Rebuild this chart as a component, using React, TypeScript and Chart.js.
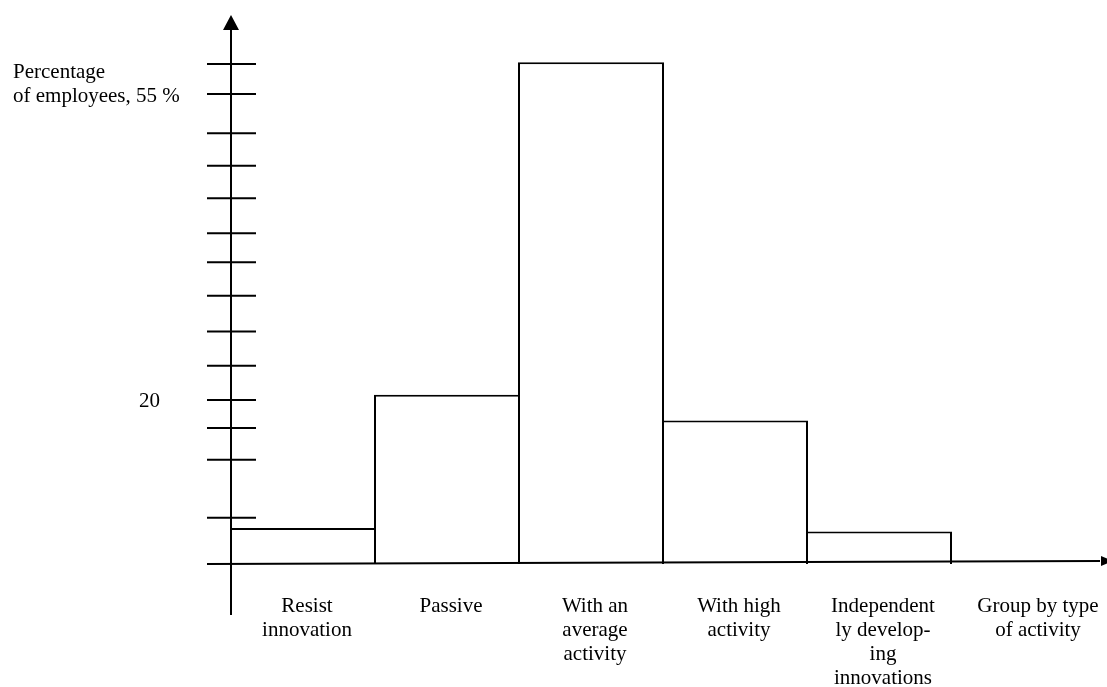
import { useEffect, useRef } from "react";
import { Chart, registerables } from "chart.js";

Chart.register(...registerables);

// ---- data ----
const categories: string[][] = [
  ["Resist", "innovation"],
  ["Passive"],
  ["With an", "average", "activity"],
  ["With high", "activity"],
  ["Independent", "ly develop-", "ing", "innovations"],
  ["Group by type", "of activity"],
];
const employeeShare: (number | null)[] = [4.2, 19.8, 58.7, 16.8, 3.8, null];
const yTickValues: number[] = [58.5, 55, 50.4, 46.6, 42.8, 38.7, 35.3, 31.4, 27.2, 23.2, 19.2, 15.9, 12.2, 5.4];
const yTickLabels: string[][] = [
  [], ["Percentage", "of employees, 55 %"], [], [], [], [], [], [], [], [], ["20"], [], [], [],
];
const yMin = 0;
const yMax = 64;

const FONT = '21px "Liberation Serif", "Times New Roman", serif';

const handAxes = {
  id: "handAxes",
  afterDatasetsDraw(chart: any) {
    const { ctx, chartArea, scales } = chart;
    const xs = scales.x;
    const ys = scales.y;
    const x0 = chartArea.left;
    const base = ys.getPixelForValue(0);
    ctx.save();
    ctx.strokeStyle = "#000";
    ctx.fillStyle = "#000";
    ctx.lineWidth = 2;
    ctx.lineCap = "butt";

    // vertical axis with arrow
    const tipY = chartArea.top - 2;
    ctx.beginPath();
    ctx.moveTo(x0, tipY + 12);
    ctx.lineTo(x0, base + 51);
    ctx.stroke();
    ctx.beginPath();
    ctx.moveTo(x0, tipY);
    ctx.lineTo(x0 - 8, tipY + 15);
    ctx.lineTo(x0 + 8, tipY + 15);
    ctx.closePath();
    ctx.fill();

    // horizontal axis with arrow (slightly tilted like the drawing)
    const endX = chartArea.right + 5;
    const endY = base - 3;
    ctx.beginPath();
    ctx.moveTo(x0 - 24, base);
    ctx.lineTo(endX, endY);
    ctx.stroke();
    ctx.beginPath();
    ctx.moveTo(endX + 13, endY);
    ctx.lineTo(endX + 1, endY - 5);
    ctx.lineTo(endX + 1, endY + 5);
    ctx.closePath();
    ctx.fill();

    // y ticks crossing the axis
    yTickValues.forEach((v) => {
      const py = ys.getPixelForValue(v);
      ctx.beginPath();
      ctx.moveTo(x0 - 24, py);
      ctx.lineTo(x0 + 25, py);
      ctx.stroke();
    });

    // y tick labels
    ctx.font = FONT;
    ctx.textBaseline = "alphabetic";
    yTickLabels.forEach((lines, i) => {
      if (!lines.length) return;
      const py = ys.getPixelForValue(yTickValues[i]);
      if (lines.length > 1) {
        ctx.textAlign = "left";
        lines.forEach((ln, k) => {
          ctx.fillText(ln, 13, py + 8 - (lines.length - 1 - k) * 24);
        });
      } else {
        ctx.textAlign = "right";
        ctx.fillText(lines[0], x0 - 71, py + 7);
      }
    });

    // category labels
    ctx.textAlign = "center";
    categories.forEach((lines, i) => {
      const cx = xs.getPixelForValue(i) + (i === categories.length - 1 ? 15 : 4);
      lines.forEach((ln, k) => {
        ctx.fillText(ln, cx, base + 47.5 + k * 24.2);
      });
    });
    ctx.restore();
  },
};

export default function App() {
  const ref = useRef<HTMLCanvasElement | null>(null);
  useEffect(() => {
    if (!ref.current) return;
    const chart = new Chart(ref.current, {
      type: "bar",
      data: {
        labels: categories.map((c) => c.join(" ")),
        datasets: [
          {
            data: employeeShare as any,
            backgroundColor: "#ffffff",
            borderColor: "#000000",
            borderWidth: 2,
            borderSkipped: "bottom",
            barPercentage: 146 / 144,
            categoryPercentage: 1,
            clip: false as any,
          },
        ],
      },
      options: {
        animation: false,
        responsive: false,
        devicePixelRatio: 1,
        layout: { padding: { left: 231, right: 12, top: 17, bottom: 123 } },
        plugins: { legend: { display: false }, tooltip: { enabled: false } },
        scales: {
          x: { type: "category", display: false, offset: true },
          y: { type: "linear", display: false, min: yMin, max: yMax },
        },
      },
      plugins: [handAxes],
    });
    return () => chart.destroy();
  }, []);
  return (
    <div style={{ position: "fixed", left: 0, top: 0, width: 1107, height: 687, background: "#fff" }}>
      <canvas ref={ref} width={1107} height={687} style={{ display: "block" }} />
    </div>
  );
}
